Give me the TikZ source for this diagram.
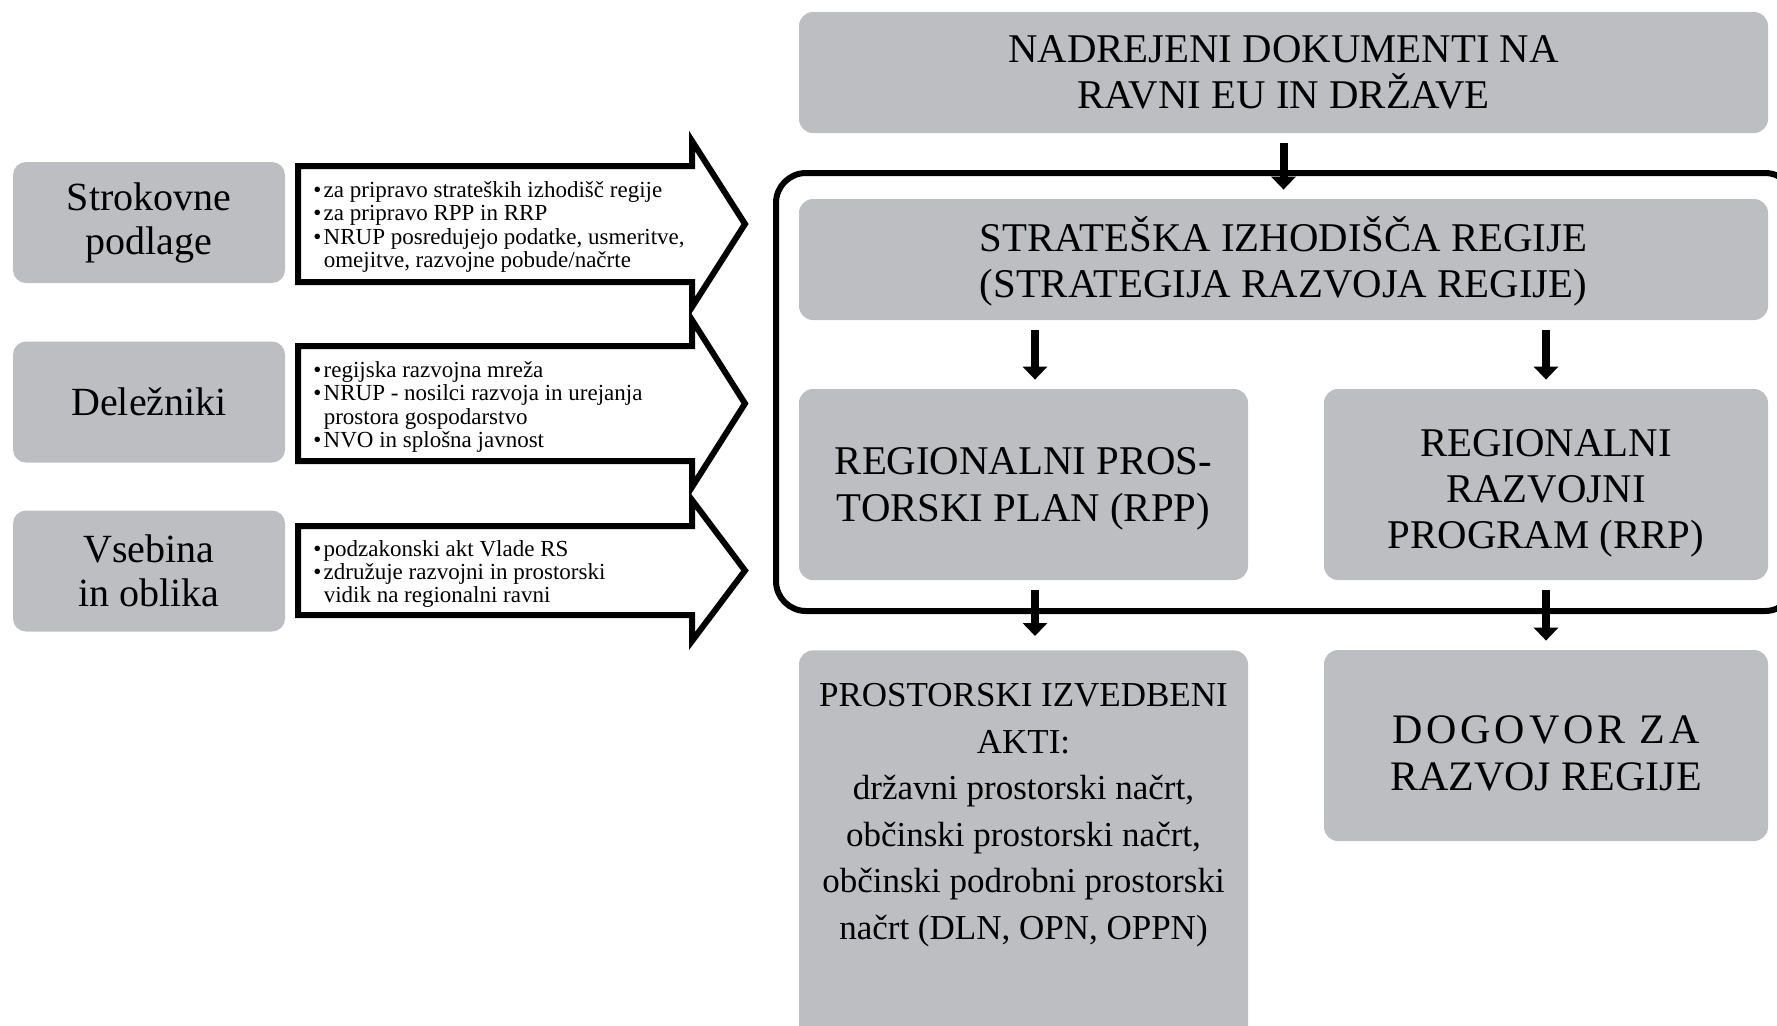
\documentclass[tikz,border=0pt]{standalone}
\usepackage{fontspec}
\setmainfont{Liberation Serif}
\usetikzlibrary{arrows.meta}

\definecolor{boxgray}{RGB}{189,190,193}

\tikzset{
  graybox/.style={fill=boxgray, rounded corners=7pt, align=center, inner sep=0pt, text=black},
  sidebox/.style={graybox, rounded corners=6.5pt, minimum width=136pt, minimum height=60.5pt, font=\fontsize{20}{22}\selectfont},
  mainbox/.style={graybox, font=\fontsize{20.4}{23.2}\selectfont},
  txtbox/.style 2 args={text height=#1, text depth=#2},
  blockarrow/.style={draw=black, line width=3pt, fill=white},
  arrtxt/.style={anchor=west, align=left, inner sep=0pt, font=\fontsize{11.5}{11.65}\selectfont},
  flow/.style={line width=4pt, -{Triangle[width=12pt,length=6.5pt]}, shorten <=5pt, shorten >=4.5pt},
  regframe/.style={line width=3pt, rounded corners=15pt}
}
\newcommand{\itm}{\makebox[0.45em][l]{•}}
\newcommand{\cont}{\hspace*{0.45em}}

\begin{document}
\begin{tikzpicture}[x=0.5pt,y=0.5pt,yscale=-1,xscale=1]
\useasboundingbox (0,0) rectangle (1777,1025);
\clip (0,0) rectangle (1777,1025);

%Shape: Rounded Rect [id:regframe]
\draw[regframe] (776,173) rectangle (1795,611);

%Shape: Rounded Rect [id:strok]
\node[sidebox] (strok) at (149,222.5) {Strokovne\\podlage};
%Shape: Rounded Rect [id:delez]
\node[sidebox] (delez) at (149,402) {Deležniki};
%Shape: Rounded Rect [id:vseb]
\node[sidebox] (vseb) at (149,571) {Vsebina\\in oblika};

%Shape: Right Arrow [id:arrA]
\draw[blockarrow] (298,166) -- (692,166) -- (692,141) -- (745,224) -- (692,307) -- (692,282) -- (298,282) -- cycle;
\node[arrtxt] (txtA) at (313,227) {\itm za pripravo strateških izhodišč regije\\\itm za pripravo RPP in RRP\\\itm NRUP posredujejo podatke, usmeritve,\\\cont omejitve, razvojne pobude/načrte};
%Shape: Right Arrow [id:arrB]
\draw[blockarrow] (298,346) -- (692,346) -- (692,320) -- (745,403.5) -- (692,487) -- (692,461) -- (298,461) -- cycle;
\node[arrtxt] (txtB) at (313,407) {\itm regijska razvojna mreža\\\itm NRUP - nosilci razvoja in urejanja\\\cont prostora gospodarstvo\\\itm NVO in splošna javnost};
%Shape: Right Arrow [id:arrC]
\draw[blockarrow] (298,526) -- (692,526) -- (692,500) -- (745,570.5) -- (692,641) -- (692,615) -- (298,615) -- cycle;
\node[arrtxt] (txtC) at (313,574) {\itm podzakonski akt Vlade RS\\\itm združuje razvojni in prostorski\\\cont vidik na regionalni ravni};

%Shape: Rounded Rect [id:nadrej]
\node[mainbox, minimum width=484.5pt, minimum height=60.5pt] (nadrej) at (1283.5,72.5) {NADREJENI DOKUMENTI NA\\RAVNI EU IN DRŽAVE};
%Shape: Rounded Rect [id:strat]
\node[mainbox, text depth=2.4pt, minimum width=484.5pt, minimum height=60.5pt] (strat) at (1283.5,259.5) {STRATEŠKA IZHODIŠČA REGIJE\\(STRATEGIJA RAZVOJA REGIJE)};
%Shape: Rounded Rect [id:rpp]
\node[mainbox, text depth=0pt, minimum width=224.5pt, minimum height=95.5pt] (rpp) at (1023.5,484.5) {REGIONALNI PROS-\\TORSKI PLAN (RPP)};
%Shape: Rounded Rect [id:rrp]
\node[mainbox, txtbox={64.4pt}{0pt}, minimum width=222pt, minimum height=95.5pt] (rrp) at (1546,484.5) {REGIONALNI\\RAZVOJNI\\PROGRAM (RRP)};
%Shape: Rounded Rect [id:pia]
\node[graybox, anchor=north, font=\fontsize{17.5}{23.25}\selectfont] (pia) at (1023.5,650) {\parbox[t][195pt][t]{224.5pt}{\centering\vspace*{16.5pt}PROSTORSKI IZVEDBENI\\AKTI:\\državni prostorski načrt,\\občinski prostorski načrt,\\občinski podrobni prostorski\\načrt (DLN, OPN, OPPN)}};
%Shape: Rounded Rect [id:dogov]
\node[mainbox, txtbox={44.7pt}{0pt}, minimum width=222pt, minimum height=95.5pt, font=\fontsize{21}{23.5}\selectfont] (dogov) at (1546,745.5) {{\addfontfeature{LetterSpace=9}DOGOVOR ZA}\\RAZVOJ REGIJE};

%Straight Lines [id:colL]
\coordinate (colL) at (1035,0);
\draw[flow] (nadrej.south) -- (strat.north);
\draw[flow] (strat.south -| colL) -- (rpp.north -| colL);
\draw[flow] (strat.south -| rrp.north) -- (rrp.north);
\draw[flow, shorten >=7pt] (rpp.south -| colL) -- (pia.north -| colL);
\draw[flow] (rrp.south) -- (dogov.north);

\end{tikzpicture}
\end{document}
